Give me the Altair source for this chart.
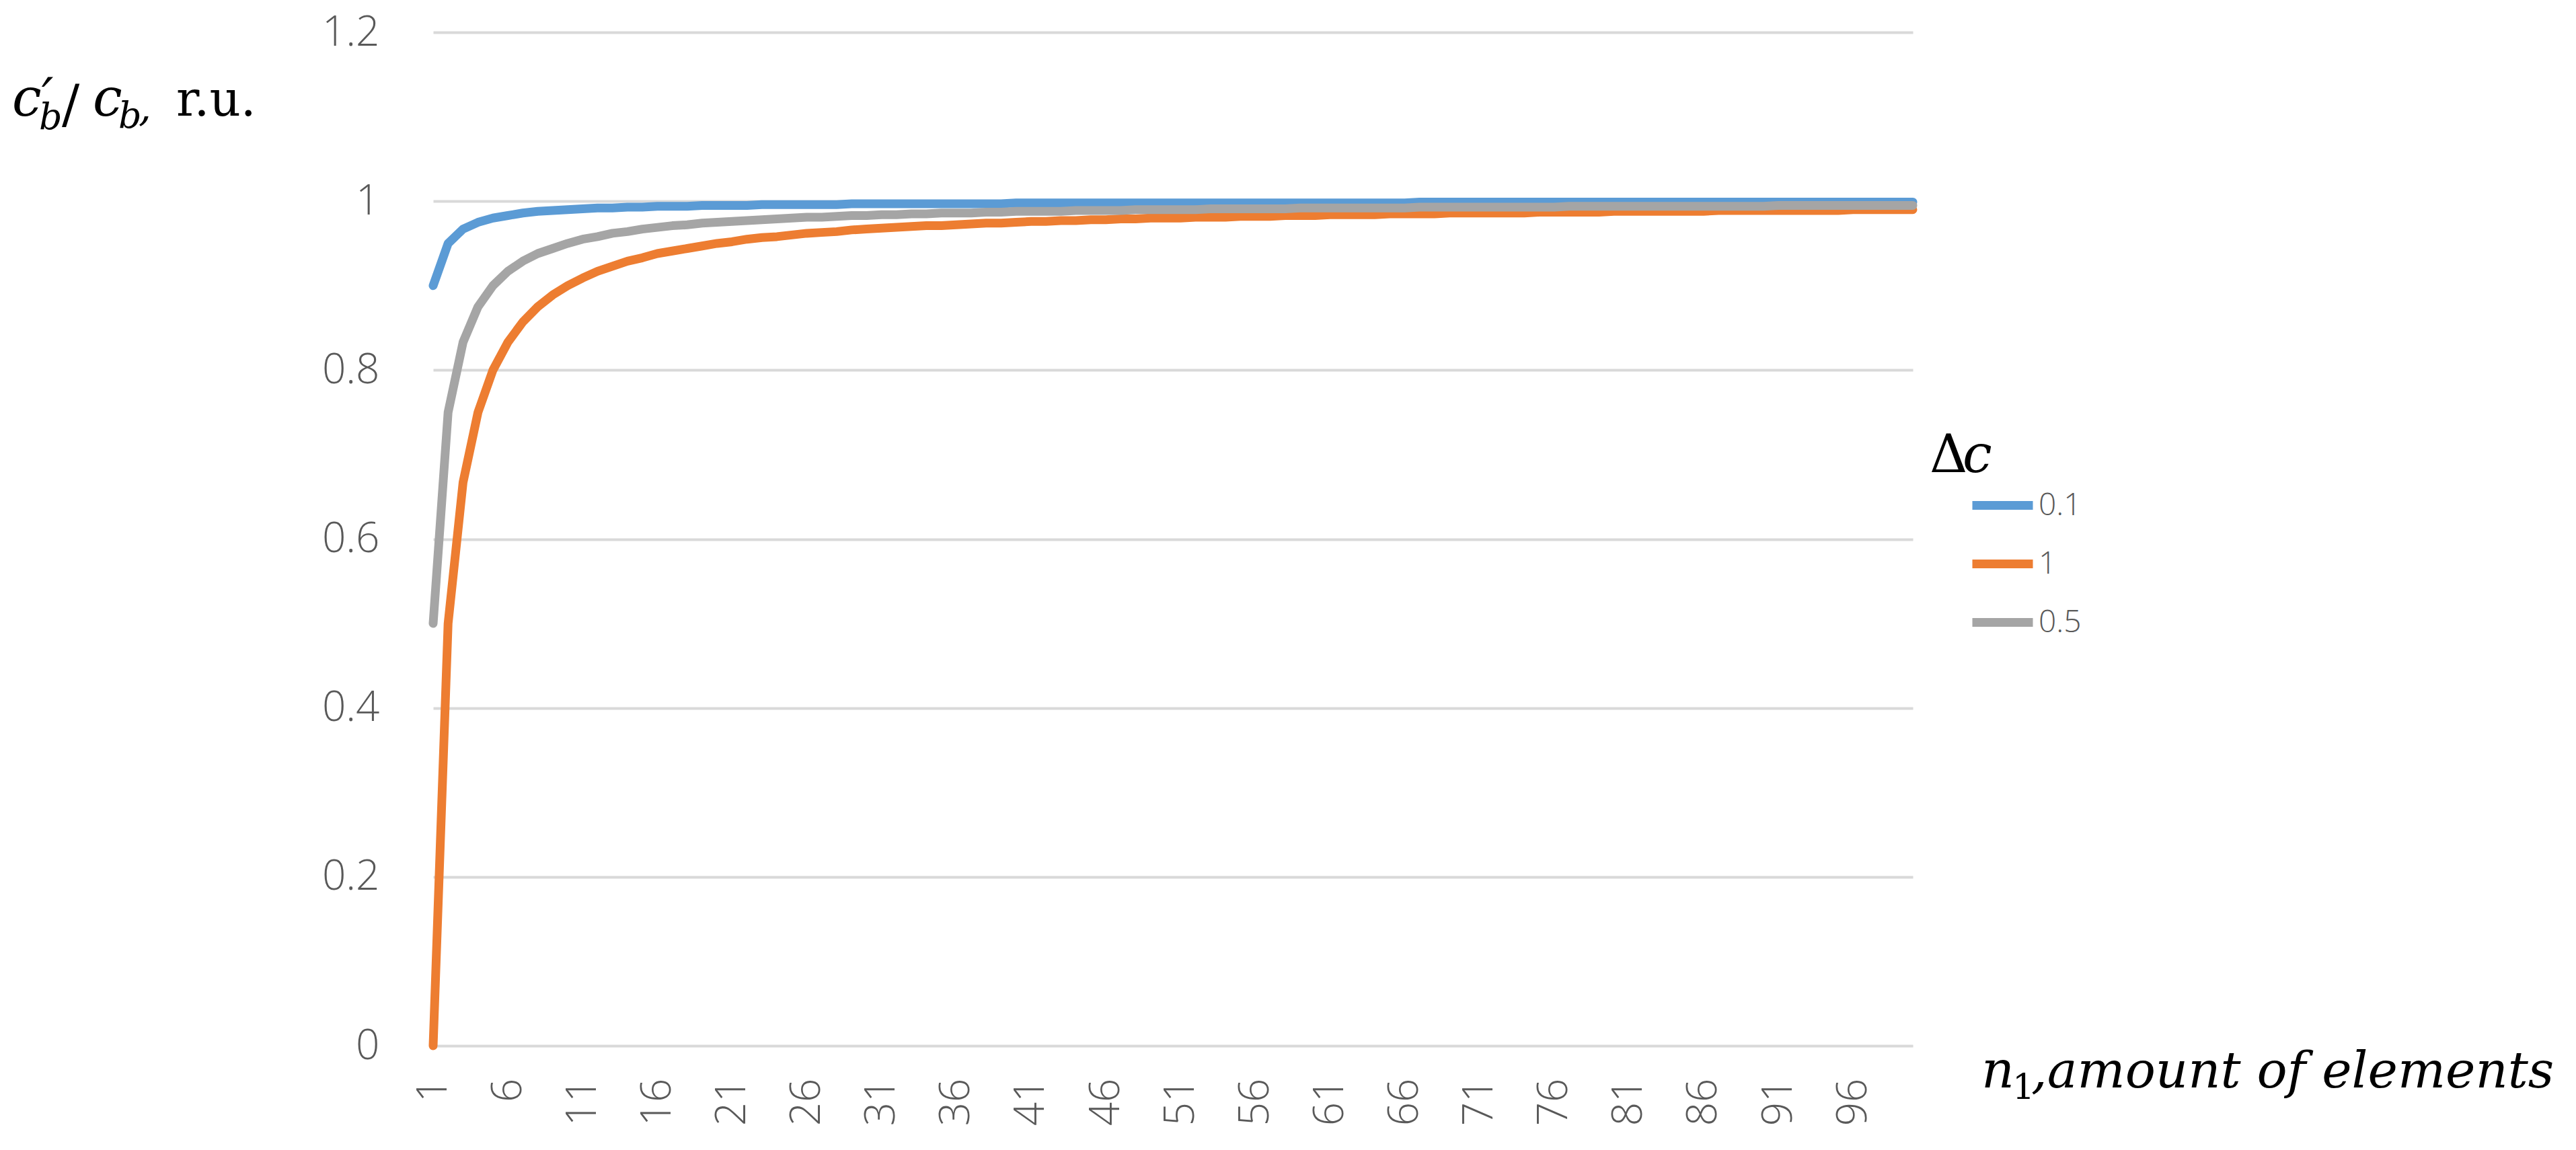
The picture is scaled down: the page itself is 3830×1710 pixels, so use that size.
import altair as alt
import pandas as pd

# ---- data ----
n_values = list(range(1, 101))
x_tick_labels = [1, 6, 11, 16, 21, 26, 31, 36, 41, 46, 51, 56, 61, 66, 71, 76, 81, 86, 91, 96]
y_tick_labels = [0, 0.2, 0.4, 0.6, 0.8, 1.0, 1.2]
series_names = ["0.1", "1", "0.5"]
series_colors = ["#5B9BD5", "#ED7D31", "#A5A5A5"]

dc_01 = [0.9, 0.95, 0.967, 0.975, 0.98, 0.983, 0.986, 0.988, 0.989, 0.99,
         0.991, 0.992, 0.992, 0.993, 0.993, 0.994, 0.994, 0.994, 0.995, 0.995,
         0.995, 0.995, 0.996, 0.996, 0.996, 0.996, 0.996, 0.996, 0.997, 0.997,
         0.997, 0.997, 0.997, 0.997, 0.997, 0.997, 0.997, 0.997, 0.997, 0.998,
         0.998, 0.998, 0.998, 0.998, 0.998, 0.998, 0.998, 0.998, 0.998, 0.998,
         0.998, 0.998, 0.998, 0.998, 0.998, 0.998, 0.998, 0.998, 0.998, 0.998,
         0.998, 0.998, 0.998, 0.998, 0.998, 0.998, 0.999, 0.999, 0.999, 0.999,
         0.999, 0.999, 0.999, 0.999, 0.999, 0.999, 0.999, 0.999, 0.999, 0.999,
         0.999, 0.999, 0.999, 0.999, 0.999, 0.999, 0.999, 0.999, 0.999, 0.999,
         0.999, 0.999, 0.999, 0.999, 0.999, 0.999, 0.999, 0.999, 0.999, 0.999]

dc_1 = [0.0, 0.5, 0.667, 0.75, 0.8, 0.833, 0.857, 0.875, 0.889, 0.9,
        0.909, 0.917, 0.923, 0.929, 0.933, 0.938, 0.941, 0.944, 0.947, 0.95,
        0.952, 0.955, 0.957, 0.958, 0.96, 0.962, 0.963, 0.964, 0.966, 0.967,
        0.968, 0.969, 0.97, 0.971, 0.971, 0.972, 0.973, 0.974, 0.974, 0.975,
        0.976, 0.976, 0.977, 0.977, 0.978, 0.978, 0.979, 0.979, 0.98, 0.98,
        0.98, 0.981, 0.981, 0.981, 0.982, 0.982, 0.982, 0.983, 0.983, 0.983,
        0.984, 0.984, 0.984, 0.984, 0.985, 0.985, 0.985, 0.985, 0.986, 0.986,
        0.986, 0.986, 0.986, 0.986, 0.987, 0.987, 0.987, 0.987, 0.987, 0.988,
        0.988, 0.988, 0.988, 0.988, 0.988, 0.988, 0.989, 0.989, 0.989, 0.989,
        0.989, 0.989, 0.989, 0.989, 0.989, 0.99, 0.99, 0.99, 0.99, 0.99]

dc_05 = [0.5, 0.75, 0.833, 0.875, 0.9, 0.917, 0.929, 0.938, 0.944, 0.95,
         0.955, 0.958, 0.962, 0.964, 0.967, 0.969, 0.971, 0.972, 0.974, 0.975,
         0.976, 0.977, 0.978, 0.979, 0.98, 0.981, 0.981, 0.982, 0.983, 0.983,
         0.984, 0.984, 0.985, 0.985, 0.986, 0.986, 0.986, 0.987, 0.987, 0.988,
         0.988, 0.988, 0.988, 0.989, 0.989, 0.989, 0.989, 0.99, 0.99, 0.99,
         0.99, 0.99, 0.991, 0.991, 0.991, 0.991, 0.991, 0.991, 0.992, 0.992,
         0.992, 0.992, 0.992, 0.992, 0.992, 0.992, 0.993, 0.993, 0.993, 0.993,
         0.993, 0.993, 0.993, 0.993, 0.993, 0.993, 0.994, 0.994, 0.994, 0.994,
         0.994, 0.994, 0.994, 0.994, 0.994, 0.994, 0.994, 0.994, 0.994, 0.994,
         0.995, 0.995, 0.995, 0.995, 0.995, 0.995, 0.995, 0.995, 0.995, 0.995]

frames = []
for name, vals in zip(series_names, [dc_01, dc_1, dc_05]):
    frames.append(pd.DataFrame({"n": n_values, "value": vals, "dc": name}))
df = pd.concat(frames, ignore_index=True)

# ---- layout (plot origin on the page is at 8 + padding) ----
PL, PT = 636, 40
W, H = 2200, 1507
LABEL_GRAY = "#595959"

lines = alt.Chart(df).mark_line(strokeWidth=13, strokeCap="round", strokeJoin="round").encode(
    x=alt.X("n:Q",
            scale=alt.Scale(domain=[1, 100], nice=False, zero=False),
            axis=alt.Axis(values=x_tick_labels, labelAngle=-90, title=None, grid=False,
                          ticks=False, domain=False, labelFontSize=62, labelFont="Open Sans",
                          labelFontWeight=300, labelColor=LABEL_GRAY, labelPadding=48,
                          format="d")),
    y=alt.Y("value:Q",
            scale=alt.Scale(domain=[0, 1.2], nice=False),
            axis=alt.Axis(values=y_tick_labels, title=None, ticks=False, domain=False,
                          gridColor="#D9D9D9", gridWidth=4, labelFontSize=62,
                          labelFont="Open Sans", labelFontWeight=300, labelColor=LABEL_GRAY,
                          labelPadding=80, format="~g")),
    color=alt.Color("dc:N",
                    scale=alt.Scale(domain=series_names, range=series_colors),
                    legend=alt.Legend(orient="none", legendX=2282, legendY=652, title=None,
                                      symbolType="stroke", symbolSize=8100,
                                      symbolStrokeWidth=13, labelFontSize=46,
                                      labelFont="Open Sans", labelFontWeight=300,
                                      labelColor=LABEL_GRAY, labelOffset=2, rowPadding=9)),
    order=alt.Order("n:Q"),
)


def txt(s, px, py, size, italic=True, font="DejaVu Serif"):
    """Annotation text placed at page pixel (px, py) = left edge / baseline."""
    return alt.Chart(alt.Data(values=[{"k": 0}])).mark_text(
        text=s, align="left", baseline="alphabetic", fontSize=size, font=font,
        fontStyle="italic" if italic else "normal", color="black",
    ).encode(x=alt.value(px - 8 - PL), y=alt.value(py - 8 - PT))


# y-axis title: c'_b / c_b, r.u.
ytitle = [
    txt("c\u2032", 18, 172, 78),
    txt("b", 58, 192, 54),
    txt("/", 92, 182, 78, italic=False),
    txt("c", 138, 172, 78),
    txt("b", 176, 190, 54),
    txt(",", 206, 180, 60),
    txt("r.u.", 262, 172, 72, italic=False),
]
# x-axis title: n_1, amount of elements
xtitle = [
    txt("n", 2946, 1617, 76),
    txt("1", 2992, 1634, 52, italic=False),
    txt(",amount of elements", 3020, 1617, 75),
]
# legend title: Δc
ltitle = [
    txt("\u0394", 2869, 702, 78, italic=False),
    txt("c", 2918, 702, 78),
]

chart = alt.layer(lines, *ytitle, *xtitle, *ltitle).properties(
    width=W, height=H,
    autosize=alt.AutoSizeParams(type="none"),
    padding={"left": PL, "top": PT, "right": 970, "bottom": 140},
    background="white",
).configure_view(strokeWidth=0, stroke="transparent")

chart.save("out.html", embed_options={"renderer": "svg", "actions": False})
